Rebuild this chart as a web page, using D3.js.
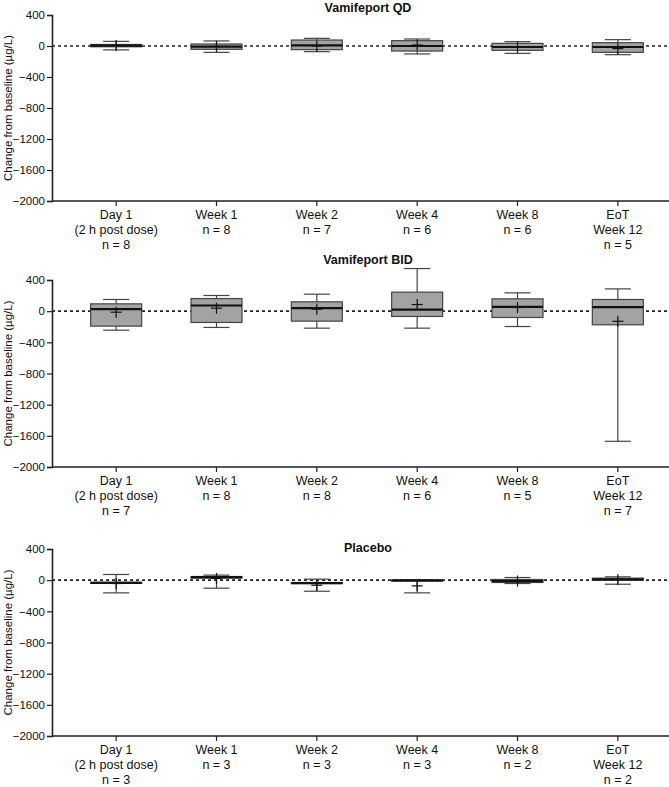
<!DOCTYPE html>
<html>
<head>
<meta charset="utf-8">
<script src="https://cdn.jsdelivr.net/npm/d3@7"></script>
<style>
  body { margin: 0; background: #fff; }
  text { font-family: "Liberation Sans Narrow", "Arial Narrow", "Liberation Sans", Arial, sans-serif; fill: #111; }
</style>
</head>
<body>
<div id="chart"></div>
<script>
        // Data: per timepoint [min, q1, median, q3, max, mean]
        const categories = ["Day 1", "Week 1", "Week 2", "Week 4", "Week 8", "EoT"];
        const subLabels = ["(2 h post dose)", "", "", "", "", "Week 12"];
        const yTicks = [400, 0, -400, -800, -1200, -1600, -2000];

        const panelTitles = ["Vamifeport QD", "Vamifeport BID", "Placebo"];
        const qdN = [8, 8, 7, 6, 6, 5];
        const bidN = [7, 8, 8, 6, 5, 7];
        const placeboN = [3, 3, 3, 3, 2, 2];

        const qdStats = [
            [-50, -10, 5, 20, 60, 8],
            [-82, -43, -9, 26, 65, -5],
            [-73, -47, 9, 77, 99, 0],
            [-103, -65, 0, 69, 90, 13],
            [-95, -56, -13, 34, 56, -10],
            [-112, -82, -13, 43, 82, -34]
        ];
        const bidStats = [
            [-244, -192, 26, 94, 150, -13],
            [-209, -145, 73, 162, 201, 38],
            [-218, -128, 38, 120, 218, 26],
            [-218, -68, 21, 244, 547, 85],
            [-197, -81, 56, 158, 235, 47],
            [-1670, -175, 51, 150, 286, -130]
        ];
        const placeboStats = [
            [-163, -40, -34, -28, 73, -43],
            [-103, 26, 39, 47, 65, 21],
            [-142, -43, -39, -30, 13, -65],
            [-163, -5, -2, 0, 0, -73],
            [-43, -30, -13, 9, 34, -12],
            [-52, 0, 9, 26, 43, 9]
        ];

        const width = 669;
        const height = 787;
        const svg = d3.select("#chart")
            .append("svg")
            .attr("width", width)
            .attr("height", height);

        const axisLeft = 52;
        const axisRight = 669;
        const x = d3.scaleBand().domain(categories).range([66, 668]);
        const boxW = 51;
        const capW = 26;

        // top (400) and bottom (-2000) pixel of each panel
        const panels = [
            { title: panelTitles[0], stats: qdStats, n: qdN, top: 15, bottom: 201, titleY: 12 },
            { title: panelTitles[1], stats: bidStats, n: bidN, top: 280, bottom: 467, titleY: 264 },
            { title: panelTitles[2], stats: placeboStats, n: placeboN, top: 549, bottom: 736, titleY: 552 }
        ];

        panels.forEach(p => {
            const y = d3.scaleLinear().domain([-2000, 400]).range([p.bottom, p.top]);
            const g = svg.append("g");

            // title
            g.append("text")
                .attr("x", 368)
                .attr("y", p.titleY)
                .attr("text-anchor", "middle")
                .attr("font-size", "12.5px")
                .attr("font-weight", "bold")
                .text(p.title);

            // y axis title
            g.append("text")
                .attr("transform", `translate(12,${(p.top + p.bottom) / 2}) rotate(-90)`)
                .attr("text-anchor", "middle")
                .attr("font-size", "11.5px")
                .text("Change from baseline (µg/L)");

            // y axis
            const yAxis = g.append("g")
                .attr("transform", `translate(${axisLeft},0)`)
                .call(d3.axisLeft(y).tickValues(yTicks).tickSize(5).tickFormat(d => String(d).replace("-", "\u2212")));
            yAxis.select(".domain").attr("stroke", "#222").attr("stroke-width", 1.6);
            yAxis.selectAll(".tick line").attr("stroke", "#222").attr("stroke-width", 1.2);
            yAxis.selectAll(".tick text").attr("font-size", "11.5px").attr("x", -7)
                .style("font-family", "'Liberation Sans Narrow', 'Liberation Sans', Arial, sans-serif");

            // x axis line + ticks
            g.append("line")
                .attr("x1", axisLeft).attr("x2", axisRight)
                .attr("y1", y(-2000)).attr("y2", y(-2000))
                .attr("stroke", "#222").attr("stroke-width", 1.6);
            g.selectAll(".xtick")
                .data(categories)
                .enter()
                .append("line")
                .attr("x1", d => x(d) + x.bandwidth() / 2)
                .attr("x2", d => x(d) + x.bandwidth() / 2)
                .attr("y1", y(-2000))
                .attr("y2", y(-2000) + 5)
                .attr("stroke", "#222").attr("stroke-width", 1.2);

            // x labels
            categories.forEach((c, i) => {
                const lines = [c];
                if (subLabels[i]) lines.push(subLabels[i]);
                lines.push("n = " + p.n[i]);
                const t = g.append("text")
                    .attr("x", x(c) + x.bandwidth() / 2)
                    .attr("y", y(-2000) + 18)
                    .attr("text-anchor", "middle")
                    .attr("font-size", "12.5px");
                lines.forEach((l, j) => {
                    t.append("tspan")
                        .attr("x", x(c) + x.bandwidth() / 2)
                        .attr("dy", j === 0 ? 0 : 15)
                        .text(l);
                });
            });

            // zero line
            g.append("line")
                .attr("x1", axisLeft).attr("x2", axisRight)
                .attr("y1", y(0)).attr("y2", y(0))
                .attr("stroke", "#222")
                .attr("stroke-width", 1.6)
                .attr("stroke-dasharray", "3,3");

            // boxes
            const box = g.selectAll(".box")
                .data(p.stats.map((s, i) => ({ cat: categories[i], s })))
                .enter()
                .append("g")
                .attr("transform", d => `translate(${x(d.cat) + x.bandwidth() / 2},0)`);

            // whiskers
            box.append("line")
                .attr("x1", 0).attr("x2", 0)
                .attr("y1", d => y(d.s[4])).attr("y2", d => y(d.s[3]))
                .attr("stroke", "#444").attr("stroke-width", 1.2);
            box.append("line")
                .attr("x1", 0).attr("x2", 0)
                .attr("y1", d => y(d.s[1])).attr("y2", d => y(d.s[0]))
                .attr("stroke", "#444").attr("stroke-width", 1.2);
            box.append("line")
                .attr("x1", -capW / 2).attr("x2", capW / 2)
                .attr("y1", d => y(d.s[4])).attr("y2", d => y(d.s[4]))
                .attr("stroke", "#444").attr("stroke-width", 1.2);
            box.append("line")
                .attr("x1", -capW / 2).attr("x2", capW / 2)
                .attr("y1", d => y(d.s[0])).attr("y2", d => y(d.s[0]))
                .attr("stroke", "#444").attr("stroke-width", 1.2);

            box.append("rect")
                .attr("x", -boxW / 2)
                .attr("width", boxW)
                .attr("y", d => y(d.s[3]))
                .attr("height", d => Math.max(1, y(d.s[1]) - y(d.s[3])))
                .attr("fill", "#a3a3a3")
                .attr("stroke", "#444")
                .attr("stroke-width", 1.2);

            // lower whisker through box shows in the original, redraw over fill
            box.append("line")
                .attr("x1", 0).attr("x2", 0)
                .attr("y1", d => y(d.s[5])).attr("y2", d => y(d.s[1]))
                .attr("stroke", "#444").attr("stroke-width", 1)
                .attr("display", d => d.s[0] < -1000 ? null : "none");

            // median
            box.append("line")
                .attr("x1", -boxW / 2).attr("x2", boxW / 2)
                .attr("y1", d => y(d.s[2])).attr("y2", d => y(d.s[2]))
                .attr("stroke", "#111").attr("stroke-width", 2.2);

            // mean cross
            box.append("line")
                .attr("x1", -5.5).attr("x2", 5.5)
                .attr("y1", d => y(d.s[5])).attr("y2", d => y(d.s[5]))
                .attr("stroke", "#111").attr("stroke-width", 1.2);
            box.append("line")
                .attr("x1", 0).attr("x2", 0)
                .attr("y1", d => y(d.s[5]) - 5.5).attr("y2", d => y(d.s[5]) + 5.5)
                .attr("stroke", "#111").attr("stroke-width", 1.2);
        });
</script>
</body>
</html>
